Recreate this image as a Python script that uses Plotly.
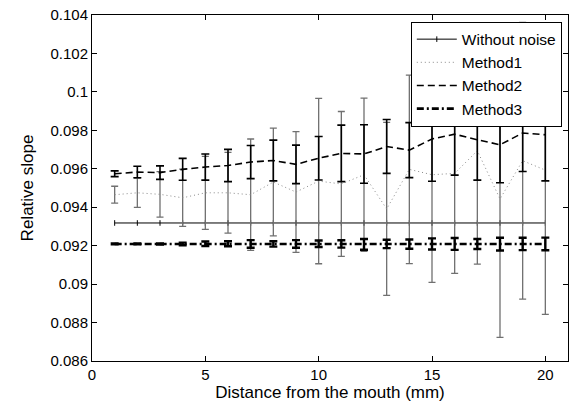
import plotly.graph_objects as go

x = list(range(1, 21))

without_noise = [0.09318] * 20

method1 = [0.09465, 0.09475, 0.09467, 0.09449, 0.09475, 0.09475, 0.09465, 0.09531, 0.09479, 0.09536,
           0.09521, 0.09569, 0.09391, 0.09597, 0.09569, 0.09576, 0.09694, 0.09443, 0.09642, 0.09593]
method1_err = [0.00044, 0.00076, 0.00118, 0.00149, 0.0019, 0.0021, 0.0029, 0.0028, 0.00314, 0.0043,
               0.00377, 0.00399, 0.0045, 0.0049, 0.0056, 0.0052, 0.0059, 0.0072, 0.0072, 0.0075]

method2 = [0.09574, 0.09583, 0.0958, 0.09597, 0.09609, 0.09617, 0.09635, 0.09643, 0.09623, 0.09655,
           0.0968, 0.09677, 0.09716, 0.09697, 0.09755, 0.0978, 0.09751, 0.09725, 0.09786, 0.09777]
method2_err = [0.00015, 0.0003, 0.00035, 0.00057, 0.00068, 0.00084, 0.00086, 0.00106, 0.001, 0.00113,
               0.00147, 0.00152, 0.0014, 0.00143, 0.0022, 0.00213, 0.0021, 0.00198, 0.002, 0.0024]

method3 = [0.09209, 0.09209, 0.09209, 0.09209, 0.0921, 0.0921, 0.09209, 0.09209, 0.09209, 0.0921,
           0.09209, 0.09207, 0.09209, 0.09208, 0.09209, 0.09209, 0.09209, 0.09208, 0.09209, 0.09209]
method3_err = [0.00002, 0.00002, 0.00003, 0.00007, 0.00012, 0.00013, 0.0002, 0.00014, 0.0002, 0.00017,
               0.00019, 0.00028, 0.00022, 0.00024, 0.00029, 0.00031, 0.00026, 0.00033, 0.00032, 0.00033]

y_ticks = [0.086, 0.088, 0.09, 0.092, 0.094, 0.096, 0.098, 0.1, 0.102, 0.104]
y_ticklabels = ["0.086", "0.088", "0.09", "0.092", "0.094", "0.096", "0.098", "0.1", "0.102", "0.104"]
x_ticks = [0, 5, 10, 15, 20]

FONT = "Liberation Sans, Arial, sans-serif"

fig = go.Figure()

fig.add_trace(go.Scatter(
    x=x, y=without_noise, name="Without noise", mode="lines+markers",
    line=dict(color="black", width=1),
    marker=dict(symbol="line-ns", size=4, line=dict(color="black", width=1)),
))
fig.add_trace(go.Scatter(
    x=x, y=method1, name="Method1", mode="lines",
    line=dict(color="#8a8a8a", width=1, dash="1px,3px"),
    error_y=dict(type="data", array=method1_err, color="#707070", thickness=1.3, width=3.5),
))
fig.add_trace(go.Scatter(
    x=x, y=method2, name="Method2", mode="lines",
    line=dict(color="black", width=1.6, dash="7px,4px"),
    error_y=dict(type="data", array=method2_err, color="black", thickness=1.6, width=4),
))
fig.add_trace(go.Scatter(
    x=x, y=method3, name="Method3", mode="lines",
    line=dict(color="black", width=2.6, dash="7px,3px,2px,3px"),
    error_y=dict(type="data", array=method3_err, color="black", thickness=2.4, width=4),
))

axis_common = dict(
    showline=True, linecolor="black", linewidth=1, mirror="ticks",
    ticks="inside", ticklen=5, tickwidth=1, tickcolor="black",
    showgrid=False, zeroline=False,
    tickfont=dict(family=FONT, size=15, color="black"),
)

fig.update_layout(
    width=570, height=402, autosize=False,
    margin=dict(l=92, r=2, t=15, b=41),
    paper_bgcolor="white", plot_bgcolor="white",
    font=dict(family=FONT, color="black"),
    showlegend=True,
    legend=dict(
        x=0.987, y=0.981, xanchor="right", yanchor="top",
        bgcolor="white", bordercolor="black", borderwidth=1,
        font=dict(family=FONT, size=15.5, color="black"),
        tracegroupgap=0, itemwidth=40,
    ),
    xaxis=dict(range=[0, 21], tickvals=x_ticks,
               title=dict(text="Distance from the mouth (mm)", font=dict(family=FONT, size=17), standoff=0),
               **axis_common),
    yaxis=dict(range=[0.086, 0.104], tickvals=y_ticks, ticktext=y_ticklabels,
               title=dict(text="Relative slope", font=dict(family=FONT, size=17), standoff=12),
               **axis_common),
)

fig.write_html("out.html")
